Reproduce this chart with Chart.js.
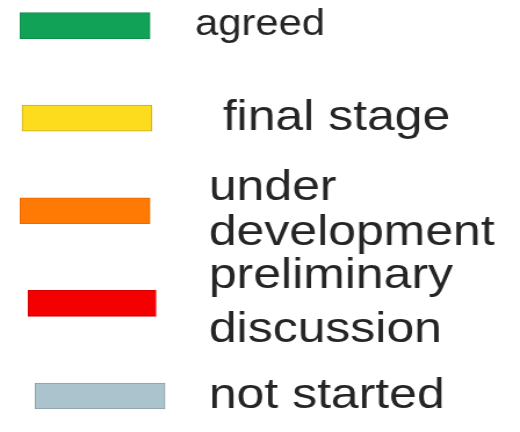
<!DOCTYPE html>
<html>
<head>
<meta charset="utf-8">
<script src="https://cdn.jsdelivr.net/npm/chart.js@4.4.0/dist/chart.umd.min.js"></script>
<style>
  body { margin: 0; background: #fff; }
  canvas { display: block; }
</style>
</head>
<body>
<canvas id="legend" width="448" height="432" style="width:520px;height:432px"></canvas>
<script>
const statuses = [
  ["agreed"],
  ["final stage"],
  ["under", "development"],
  ["preliminary", "discussion"],
  ["not started"],
];
// left and right end of each swatch
const swatchStart = [20, 22, 20, 28, 35];
const swatchEnd = [150, 152, 150, 156, 165];

const fills = ["#12a257", "#fddc1e", "#ff7a05", "#f50000", "#aac3cd"];
const edges = ["#0f8f4c", "#c9aa2a", "#e86a00", "#d60000", "#8e9ea4"];
const indent = [0, 2, 1, 1, 1];

// the picture is stretched sideways, so the canvas is drawn narrow and widened by css
const stretch = 520 / 448;

let legend = new Chart(document.getElementById("legend"), {
  type: "bar",
  data: {
    labels: statuses,
    datasets: [
      {
        data: swatchStart.map((s, i) => [s, swatchEnd[i]]),
        backgroundColor: fills,
        borderColor: edges,
        borderWidth: 1,
        borderSkipped: false,
        barThickness: 26,
        clip: false,
      },
    ],
  },
  options: {
    indexAxis: "y",
    responsive: false,
    animation: false,
    layout: { padding: { top: 25, bottom: 36, left: 0, right: 0 } },
    plugins: {
      legend: { display: false },
      tooltip: { enabled: false },
    },
    scales: {
      x: {
        display: false,
        min: 0,
        max: 165 * stretch,
      },
      y: {
        position: "right",
        offset: false,
        grid: { display: false, drawTicks: false },
        border: { display: false },
        afterFit: (scale) => {
          scale.width = 448 - 165;
        },
        ticks: {
          autoSkip: false,
          padding: 3,
          color: "#252525",
          font: (ctx) => ({
            family: "'Liberation Sans', Arial, sans-serif",
            size: ctx.index === 0 ? 36 : 43,
            lineHeight: ctx.index === 3 ? 1.25 : 1.05,
          }),
          callback: function (value, index) {
            const pad = " ".repeat(indent[index]);
            return statuses[index].map((line) => pad + line);
          },
        },
      },
    },
  },
});
</script>
</body>
</html>
